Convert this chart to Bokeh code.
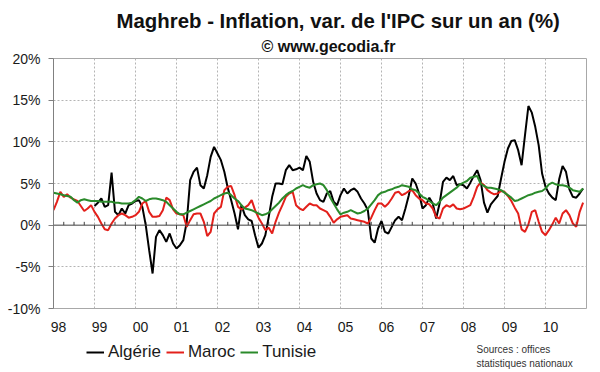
import numpy as np
from bokeh.plotting import figure
from bokeh.layouts import column
from bokeh.models import (Range1d, FixedTicker, PrintfTickFormatter, CustomJSTickFormatter,
                          Span, Label, Legend, LegendItem, Title)
from bokeh.embed import file_html
from bokeh.resources import INLINE

# ---------------- data (monthly, year-on-year CPI change, %) ----------------
year_labels = ["98", "99", "00", "01", "02", "03", "04", "05", "06", "07", "08", "09", "10"]
y_ticks = [-10, -5, 0, 5, 10, 15, 20]

# Tunisie, Jan 1998 - Dec 2010
tunisie = [
    3.9, 3.8, 3.7, 3.6, 3.5, 3.4, 3.0, 2.7, 3.0, 3.1, 3.0, 2.9,
    2.9, 2.9, 2.8, 2.8, 2.8, 2.8, 2.7, 2.7, 2.6, 2.6, 2.6, 2.7,
    3.0, 3.4, 3.2, 2.9, 3.1, 3.2, 3.2, 3.1, 3.0, 2.8, 2.4, 2.0,
    1.6, 1.3, 1.3, 1.5, 1.7, 1.9, 2.1, 2.3, 2.5, 2.7, 2.9, 3.2,
    3.4, 3.6, 3.8, 3.9, 3.6, 3.2, 2.9, 2.4, 2.0, 1.9, 1.8, 1.6,
    1.4, 1.2, 1.3, 1.5, 1.9, 2.3, 2.7, 3.2, 3.6, 3.9, 4.1, 4.4,
    4.6, 4.8, 4.6, 4.5, 4.8, 4.9, 5.0, 4.8, 4.2, 3.3, 2.6, 1.9,
    1.3, 1.5, 1.6, 1.8, 1.6, 1.4, 1.5, 1.7, 2.0, 2.5, 3.0, 3.6,
    3.9, 4.0, 4.2, 4.3, 4.5, 4.6, 4.8, 4.7, 4.6, 4.3, 4.2, 3.8,
    3.4, 3.2, 2.9, 2.6, 2.4, 2.8, 3.3, 3.6, 3.9, 4.2, 4.5, 4.9,
    5.1, 5.3, 5.7, 5.8, 5.9, 5.0, 4.7, 4.5, 4.5, 4.4, 4.3, 4.2,
    3.9, 3.6, 3.3, 2.9, 3.0, 3.2, 3.4, 3.6, 3.7, 3.9, 4.0, 4.1,
    4.4, 4.9, 5.1, 4.9, 4.8, 4.8, 4.7, 4.5, 4.2, 4.1, 4.0, 4.4,
]

# Maroc, Jan 1998 - Dec 2010
maroc = [
    1.8, 2.8, 4.0, 3.4, 3.7, 3.3, 3.1, 2.9, 2.3, 1.7, 2.0, 2.4,
    1.6, 1.0, 0.2, -0.5, -0.6, 0.2, 0.8, 1.2, 1.4, 1.2, 0.9, 1.0,
    1.2, 1.6, 2.6, 2.9, 1.6, 1.0, 1.0, 1.1, 1.8, 3.3, 3.0, 1.9,
    1.4, 1.3, 1.2, -0.2, 0.6, 1.3, 1.4, 1.4, 0.4, -1.3, -0.8, 1.4,
    1.9, 2.2, 4.2, 4.6, 4.7, 3.6, 2.2, 1.9, 2.1, 2.4, 3.0, 1.8,
    0.9, 0.2, -0.6, -0.3, -1.0, 0.4, 1.5, 2.4, 3.4, 3.8, 4.0, 2.4,
    2.0, 1.8, 2.2, 2.6, 2.4, 2.4, 2.0, 1.8, 1.6, 1.0, 0.3, 0.7,
    1.0, 1.1, 1.2, 0.8, 0.7, 0.6, 0.5, 0.4, 0.2, 0.9, 1.8, 2.6,
    2.6, 2.2, 2.6, 3.2, 3.9, 4.0, 3.6, 3.8, 4.1, 4.2, 3.6, 3.2,
    3.0, 2.6, 2.5, 2.0, 1.0, 0.8, 2.0, 2.4, 2.2, 2.5, 2.0, 1.9,
    2.0, 2.2, 2.4, 3.4, 4.6, 5.1, 4.8, 4.2, 3.9, 3.7, 3.8, 4.1,
    4.0, 3.5, 2.9, 2.1, 1.4, -0.5, -0.8, 0.1, 1.6, 1.8, 0.4, -0.8,
    -1.2, -0.6, 0.1, 0.9, 0.2, 1.4, 1.8, 1.2, 0.2, -0.2, 1.6, 2.7,
]

# Algérie, Jan 1999 - Dec 2010
algerie_start = 12
algerie = [
    2.3, 2.7, 3.2, 2.2, 2.4, 6.3, 1.6, 1.2, 2.0, 1.4, 2.4, 2.6,
    2.9, 3.0, 2.2, 0.0, -3.0, -5.8, -1.4, -0.6, -1.2, -2.0, -1.0, -2.2,
    -2.8, -2.4, -1.8, 0.4, 5.4, 6.4, 6.9, 4.8, 4.4, 6.0, 8.2, 9.4,
    8.6, 7.8, 6.4, 4.5, 3.0, 1.4, -0.5, 2.4, 1.2, 0.7, 0.5, -1.2,
    -2.7, -2.2, -1.2, 1.0, 3.4, 5.0, 5.0, 4.9, 6.6, 7.2, 6.6, 6.7,
    6.9, 6.6, 8.3, 7.6, 5.2, 3.8, 3.0, 2.8, 3.8, 4.1, 2.8, 2.4,
    3.6, 4.4, 3.8, 4.2, 4.4, 4.0, 3.2, 2.6, 1.8, -1.6, -2.1, -0.4,
    0.5, -0.8, -1.0, -0.2, 0.6, 1.0, 0.6, 2.0, 3.6, 5.6, 5.0, 3.8,
    2.0, 2.4, 3.3, 2.6, 0.8, 2.6, 5.2, 5.7, 5.4, 5.9, 4.8, 4.9,
    4.8, 4.4, 5.1, 5.9, 6.6, 5.4, 2.7, 1.5, 2.5, 3.0, 3.5, 5.6,
    7.6, 9.2, 10.1, 10.2, 9.0, 7.2, 10.8, 14.3, 13.5, 11.8, 9.6, 6.2,
    4.6, 3.8, 3.3, 3.0, 5.5, 7.1, 6.4, 4.3, 3.4, 3.3, 3.8, 4.4,
]

series_names = ["Algérie", "Maroc", "Tunisie"]
title_text = "Maghreb - Inflation, var. de l'IPC sur un an (%)"
subtitle_text = "© www.gecodia.fr"
source_lines = ["Sources : offices", "statistiques nationaux"]

months_tm = list(range(len(tunisie)))
months_alg = list(range(algerie_start, algerie_start + len(algerie)))
n_months = len(tunisie)

FONT = "Liberation Sans"
COLORS = ["#000000", "#e3201b", "#2a8a2a"]
TXT = "#1a1a1a"
BL, BR = 53, 14          # left / right borders (px)
W = 600
FRAME_W = W - BL - BR

# ---------------- main chart ----------------
p = figure(width=W, height=336, output_backend="svg", toolbar_location=None,
           x_range=Range1d(0, n_months), y_range=Range1d(y_ticks[0], y_ticks[-1]),
           min_border_left=BL, min_border_right=BR, min_border_top=58, min_border_bottom=28)
p.outline_line_color = "#a8a8a8"
p.outline_line_width = 1

# titles (first added sits nearest the frame)
p.add_layout(Title(text=subtitle_text, text_font=FONT, text_font_size="16px",
                   text_font_style="bold", text_color="#111111", align="left",
                   offset=208, standoff=8), "above")
p.add_layout(Title(text=title_text, text_font=FONT, text_font_size="20.4px",
                   text_font_style="bold", text_color="#111111", align="left",
                   offset=63, standoff=0), "above")

# y axis
p.yaxis.ticker = FixedTicker(ticks=y_ticks)
p.yaxis.formatter = PrintfTickFormatter(format="%d%%")
p.yaxis.major_tick_out = 5
p.yaxis.major_tick_in = 0
p.yaxis.minor_tick_line_color = None
p.yaxis.axis_line_color = "#808080"
p.yaxis.major_tick_line_color = "#808080"
p.yaxis.major_label_text_font = FONT
p.yaxis.major_label_text_font_size = "14px"
p.yaxis.major_label_text_color = TXT
p.yaxis.major_label_standoff = 8

# x axis (labels only)
p.xaxis.ticker = FixedTicker(ticks=[12 * i + 1.5 for i in range(len(year_labels))])
p.xaxis.formatter = CustomJSTickFormatter(args=dict(labels=year_labels),
                                          code="return labels[Math.floor(tick/12)];")
p.xaxis.axis_line_color = None
p.xaxis.major_tick_line_color = None
p.xaxis.minor_tick_line_color = None
p.xaxis.major_label_text_font = FONT
p.xaxis.major_label_text_font_size = "14px"
p.xaxis.major_label_text_color = TXT
p.xaxis.major_label_standoff = 7

# grids
p.xgrid.ticker = FixedTicker(ticks=[12 * i for i in range(1, len(year_labels))])
p.ygrid.ticker = FixedTicker(ticks=[t for t in y_ticks if t not in (0, y_ticks[0], y_ticks[-1])])
for g in (p.xgrid, p.ygrid):
    g.grid_line_color = "#b4b4b4"
    g.grid_line_dash = "2 2"
    g.grid_line_width = 1

# zero axis line with tick marks
p.add_layout(Span(location=0, dimension="width", line_color="#404040", line_width=1))
q_ticks = [m for m in range(3, n_months, 3) if m % 12 != 0]
yr_ticks = [m for m in range(12, n_months, 12)]
p.segment(x0=q_ticks, y0=[0] * len(q_ticks), x1=q_ticks, y1=[0.4] * len(q_ticks),
          line_color="#404040", line_width=1)
p.segment(x0=yr_ticks, y0=[0] * len(yr_ticks), x1=yr_ticks, y1=[-0.5] * len(yr_ticks),
          line_color="#404040", line_width=1)

p.line(months_alg, algerie, line_color=COLORS[0], line_width=2)
p.line(months_tm, maroc, line_color=COLORS[1], line_width=2)
p.line(months_tm, tunisie, line_color=COLORS[2], line_width=2)

# ---------------- bottom strip: legend and sources ----------------
# frame aligned with the main chart frame; units = pixels from the frame's left/bottom
p2 = figure(width=W, height=36, output_backend="svg", toolbar_location=None,
            x_range=Range1d(0, FRAME_W), y_range=Range1d(0, 36),
            x_axis_type=None, y_axis_type=None,
            min_border_left=BL, min_border_right=BR, min_border_top=0, min_border_bottom=0)
p2.outline_line_color = None
p2.xgrid.visible = False
p2.ygrid.visible = False
items = []
for name, col in zip(series_names, COLORS):
    r = p2.line(x=[float("nan")], y=[float("nan")], line_color=col, line_width=2)
    items.append(LegendItem(label=name, renderers=[r]))
legend = Legend(items=items, orientation="horizontal", location=(33, 10))
legend.label_text_font = FONT
legend.label_text_font_size = "17px"
legend.label_text_color = TXT
legend.glyph_width = 18
legend.glyph_height = 18
legend.label_height = 18
legend.label_standoff = 4
legend.spacing = 5
legend.padding = 0
legend.margin = 0
legend.border_line_color = None
legend.background_fill_alpha = 0
p2.add_layout(legend)

p2.add_layout(Label(x=423, y=23, text=source_lines[0], text_font=FONT, text_font_size="10px",
                    text_align="left", text_baseline="alphabetic", text_color="#333333"))
p2.add_layout(Label(x=423, y=9, text=source_lines[1], text_font=FONT, text_font_size="10px",
                    text_align="left", text_baseline="alphabetic", text_color="#333333"))

layout = column(p, p2, spacing=0)
open("out.html", "w").write(file_html(layout, INLINE))
